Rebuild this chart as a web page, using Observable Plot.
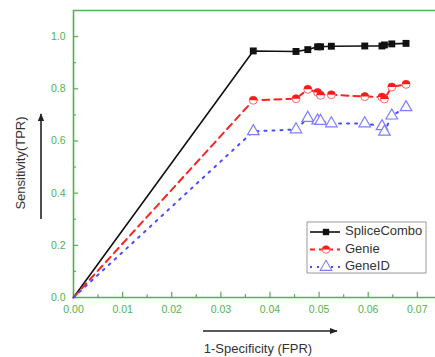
<!DOCTYPE html>
<html>
<head>
<meta charset="utf-8">
<script src="https://cdn.jsdelivr.net/npm/d3@7"></script>
<script src="https://cdn.jsdelivr.net/npm/@observablehq/plot@0.6"></script>
<style>
  html, body { margin: 0; padding: 0; background: #fff; }
  #chart { width: 435px; height: 357px; }
</style>
</head>
<body>
<div id="chart"></div>
<script>
// ---- data ----
const seriesNames = ["SpliceCombo", "Genie", "GeneID"];
const fpr = [0, 0.0366, 0.0453, 0.0477, 0.0497, 0.0503, 0.0525, 0.0593, 0.0628, 0.0633, 0.0648, 0.0677];
const tprSpliceCombo = [0, 0.945, 0.943, 0.950, 0.961, 0.961, 0.963, 0.964, 0.964, 0.968, 0.972, 0.974];
const tprGenie       = [0, 0.756, 0.762, 0.798, 0.786, 0.775, 0.777, 0.770, 0.768, 0.761, 0.807, 0.817];
const tprGeneID      = [0, 0.637, 0.644, 0.688, 0.678, 0.676, 0.667, 0.667, 0.656, 0.635, 0.697, 0.729];
const xTicks = [0, 0.01, 0.02, 0.03, 0.04, 0.05, 0.06, 0.07];
const xMinorTicks = [0.005, 0.015, 0.025, 0.035, 0.045, 0.055, 0.065];
const yTicks = [0, 0.2, 0.4, 0.6, 0.8, 1.0];
const yMinorTicks = [0.1, 0.3, 0.5, 0.7, 0.9];
const xTitle = "1-Specificity (FPR)";
const yTitle = "Sensitivity(TPR)";

// ---- build table ----
const tprBySeries = { SpliceCombo: tprSpliceCombo, Genie: tprGenie, GeneID: tprGeneID };
const rows = seriesNames.flatMap(s => fpr.map((x, i) => ({ series: s, x, y: tprBySeries[s][i], i })));
const byS = s => rows.filter(d => d.series === s);
const markRows = s => byS(s).filter(d => d.i > 0);

const green = "#4fb34f";
const halfUp = {
  draw(ctx, size) {
    const r = Math.sqrt(size / Math.PI);
    ctx.moveTo(r, 0);
    ctx.arc(0, 0, r, 0, Math.PI, true);
    ctx.closePath();
  }
};

const xDomain = [0, 0.0737];
const yDomain = [0, 1.1];

const plot = Plot.plot({
  width: 435,
  height: 357,
  marginLeft: 73,
  marginRight: 0,
  marginTop: 10,
  marginBottom: 60,
  style: { fontFamily: "Liberation Sans, Arial, sans-serif", background: "#fff", overflow: "visible" },
  x: { domain: xDomain },
  y: { domain: yDomain },
  marks: [
    // axes frame
    Plot.ruleY([0], { stroke: green, strokeWidth: 1.6 }),
    Plot.ruleY([1.1], { stroke: green, strokeWidth: 1.6 }),
    Plot.ruleX([0], { stroke: green, strokeWidth: 1.6 }),
    // inward ticks
    Plot.ruleX(xTicks, { y1: 0, y2: 0.02, stroke: green, strokeWidth: 1.2 }),
    Plot.ruleX(xMinorTicks, { y1: 0, y2: 0.011, stroke: green, strokeWidth: 1.2 }),
    Plot.ruleY(yTicks, { x1: 0, x2: 0.00105, stroke: green, strokeWidth: 1.2 }),
    Plot.ruleY(yMinorTicks, { x1: 0, x2: 0.0006, stroke: green, strokeWidth: 1.2 }),
    Plot.axisX({ ticks: xTicks, tickFormat: d3.format(".2f"), tickSize: 0, tickPadding: 8, fill: green, fontSize: 10.5, label: null }),
    Plot.axisY({ ticks: yTicks, tickFormat: d3.format(".1f"), tickSize: 0, tickPadding: 8, fill: green, fontSize: 10.5, label: null }),
    // series lines
    Plot.line(byS("SpliceCombo"), { x: "x", y: "y", stroke: "#111", strokeWidth: 1.6 }),
    Plot.line(byS("Genie"), { x: "x", y: "y", stroke: "#ff2222", strokeWidth: 2, strokeDasharray: "7,5" }),
    Plot.line(byS("GeneID"), { x: "x", y: "y", stroke: "#4a4aff", strokeWidth: 2, strokeDasharray: "2,6" }),
    // markers
    Plot.dot(markRows("GeneID"), { x: "x", y: "y", symbol: "triangle", r: 4.3, stroke: "#7d7dff", fill: "white", strokeWidth: 1.2 }),
    Plot.dot(markRows("Genie"), { x: "x", y: "y", symbol: "circle", r: 4, stroke: "#ff6666", fill: "white", strokeWidth: 1 }),
    Plot.dot(markRows("Genie"), { x: "x", y: "y", symbol: halfUp, r: 4, fill: "#ff1a1a", stroke: "none" }),
    Plot.dot(markRows("SpliceCombo"), { x: "x", y: "y", symbol: "square", r: 3.9, fill: "#111", stroke: "none" })
  ]
});

document.getElementById("chart").appendChild(plot);

// ---- annotations in pixel space (titles, arrows, legend) ----
const svg = d3.select(plot);
const ann = svg.append("g").attr("font-family", "Liberation Sans, Arial, sans-serif").attr("text-anchor", "start");
const defs = svg.append("defs");
defs.append("marker").attr("id", "ah").attr("viewBox", "0 0 10 10").attr("refX", 9).attr("refY", 5)
  .attr("markerWidth", 8).attr("markerHeight", 8).attr("markerUnits", "userSpaceOnUse").attr("orient", "auto")
  .append("path").attr("d", "M0,1 L10,5 L0,9 Z").attr("fill", "#222");

ann.append("line").attr("x1", 203).attr("y1", 331).attr("x2", 337).attr("y2", 331)
  .attr("stroke", "#222").attr("stroke-width", 1.6).attr("marker-end", "url(#ah)");
ann.append("text").attr("x", 258).attr("y", 350).attr("text-anchor", "middle")
  .attr("dominant-baseline", "middle").attr("font-size", 13).attr("fill", "#333").text(xTitle);

ann.append("line").attr("x1", 41).attr("y1", 219).attr("x2", 41).attr("y2", 114)
  .attr("stroke", "#222").attr("stroke-width", 1.6).attr("marker-end", "url(#ah)");
ann.append("text").attr("transform", "translate(22,163) rotate(-90)").attr("text-anchor", "middle")
  .attr("dominant-baseline", "middle").attr("font-size", 13).attr("fill", "#333").text(yTitle);

// legend
const lg = ann.append("g");
lg.append("rect").attr("x", 307).attr("y", 222).attr("width", 119).attr("height", 51)
  .attr("fill", "white").attr("stroke", "#999").attr("stroke-width", 1);
const legendStyle = {
  SpliceCombo: { stroke: "#111", dash: null, w: 1.6 },
  Genie: { stroke: "#ff2222", dash: "5,4", w: 2 },
  GeneID: { stroke: "#4a4aff", dash: "2,5", w: 2 }
};
seriesNames.forEach((s, k) => {
  const y = 232 + k * 17.5;
  const st = legendStyle[s];
  const ln = lg.append("line").attr("x1", 310).attr("x2", 340).attr("y1", y).attr("y2", y)
    .attr("stroke", st.stroke).attr("stroke-width", st.w);
  if (st.dash) ln.attr("stroke-dasharray", st.dash);
  const g = lg.append("g").attr("transform", `translate(326,${y})`);
  if (s === "SpliceCombo") {
    g.append("path").attr("d", d3.symbol(d3.symbolSquare, Math.PI * 3.6 * 3.6)()).attr("fill", "#111");
  } else if (s === "Genie") {
    g.append("circle").attr("r", 3.8).attr("fill", "white").attr("stroke", "#ff6666");
    g.append("path").attr("d", d3.symbol(halfUp, Math.PI * 3.8 * 3.8)()).attr("fill", "#ff1a1a");
  } else {
    g.append("path").attr("d", d3.symbol(d3.symbolTriangle, Math.PI * 4.3 * 4.3)())
      .attr("fill", "white").attr("stroke", "#7d7dff").attr("stroke-width", 1.1);
  }
  lg.append("text").attr("x", 345).attr("y", y).attr("text-anchor", "start").attr("dominant-baseline", "middle")
    .attr("font-size", 13).attr("fill", "#333").text(s);
});
</script>
</body>
</html>
